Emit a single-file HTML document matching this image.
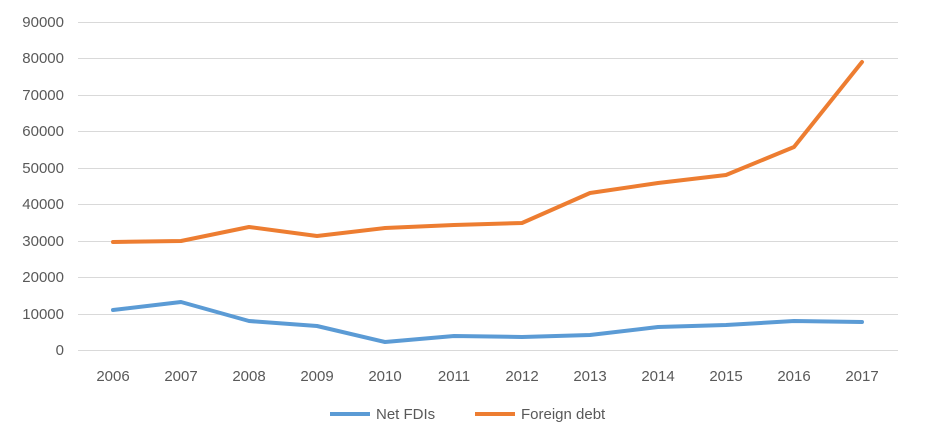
<!DOCTYPE html>
<html><head><meta charset="utf-8"><style>
html,body{margin:0;padding:0;background:#fff;}
svg{display:block;font-family:"Liberation Sans",sans-serif;}
</style></head><body>
<svg width="936" height="438" viewBox="0 0 936 438">
<g stroke="#d9d9d9" stroke-width="1">
<line x1="78" x2="898" y1="22.5" y2="22.5"/>
<line x1="78" x2="898" y1="58.5" y2="58.5"/>
<line x1="78" x2="898" y1="95.5" y2="95.5"/>
<line x1="78" x2="898" y1="131.5" y2="131.5"/>
<line x1="78" x2="898" y1="168.5" y2="168.5"/>
<line x1="78" x2="898" y1="204.5" y2="204.5"/>
<line x1="78" x2="898" y1="241.5" y2="241.5"/>
<line x1="78" x2="898" y1="277.5" y2="277.5"/>
<line x1="78" x2="898" y1="314.5" y2="314.5"/>
<line x1="78" x2="898" y1="350.5" y2="350.5"/>
</g>
<g fill="#595959" font-size="15" text-anchor="end">
<text x="64" y="27">90000</text>
<text x="64" y="63">80000</text>
<text x="64" y="100">70000</text>
<text x="64" y="136">60000</text>
<text x="64" y="173">50000</text>
<text x="64" y="209">40000</text>
<text x="64" y="246">30000</text>
<text x="64" y="282">20000</text>
<text x="64" y="319">10000</text>
<text x="64" y="355">0</text>
</g>
<g fill="#595959" font-size="15" text-anchor="middle">
<text x="113" y="381">2006</text><text x="181" y="381">2007</text><text x="249" y="381">2008</text>
<text x="317" y="381">2009</text><text x="385" y="381">2010</text><text x="454" y="381">2011</text>
<text x="522" y="381">2012</text><text x="590" y="381">2013</text><text x="658" y="381">2014</text>
<text x="726" y="381">2015</text><text x="794" y="381">2016</text><text x="862" y="381">2017</text>
</g>
<polyline fill="none" stroke="#ed7d31" stroke-width="4" stroke-linejoin="round" stroke-linecap="round"
points="113,242 181,241 249,227 317,236 385,228 454,225 522,223 590,193 658,183 726,175 794,147 862,62"/>
<polyline fill="none" stroke="#5b9bd5" stroke-width="4" stroke-linejoin="round" stroke-linecap="round"
points="113,310 181,302 249,321 317,326 385,342 454,336 522,337 590,335 658,327 726,325 794,321 862,322"/>
<line x1="330" x2="370" y1="414" y2="414" stroke="#5b9bd5" stroke-width="4"/>
<text x="376" y="419" fill="#595959" font-size="15">Net FDIs</text>
<line x1="475" x2="515" y1="414" y2="414" stroke="#ed7d31" stroke-width="4"/>
<text x="521" y="419" fill="#595959" font-size="15">Foreign debt</text>
</svg>
</body></html>
